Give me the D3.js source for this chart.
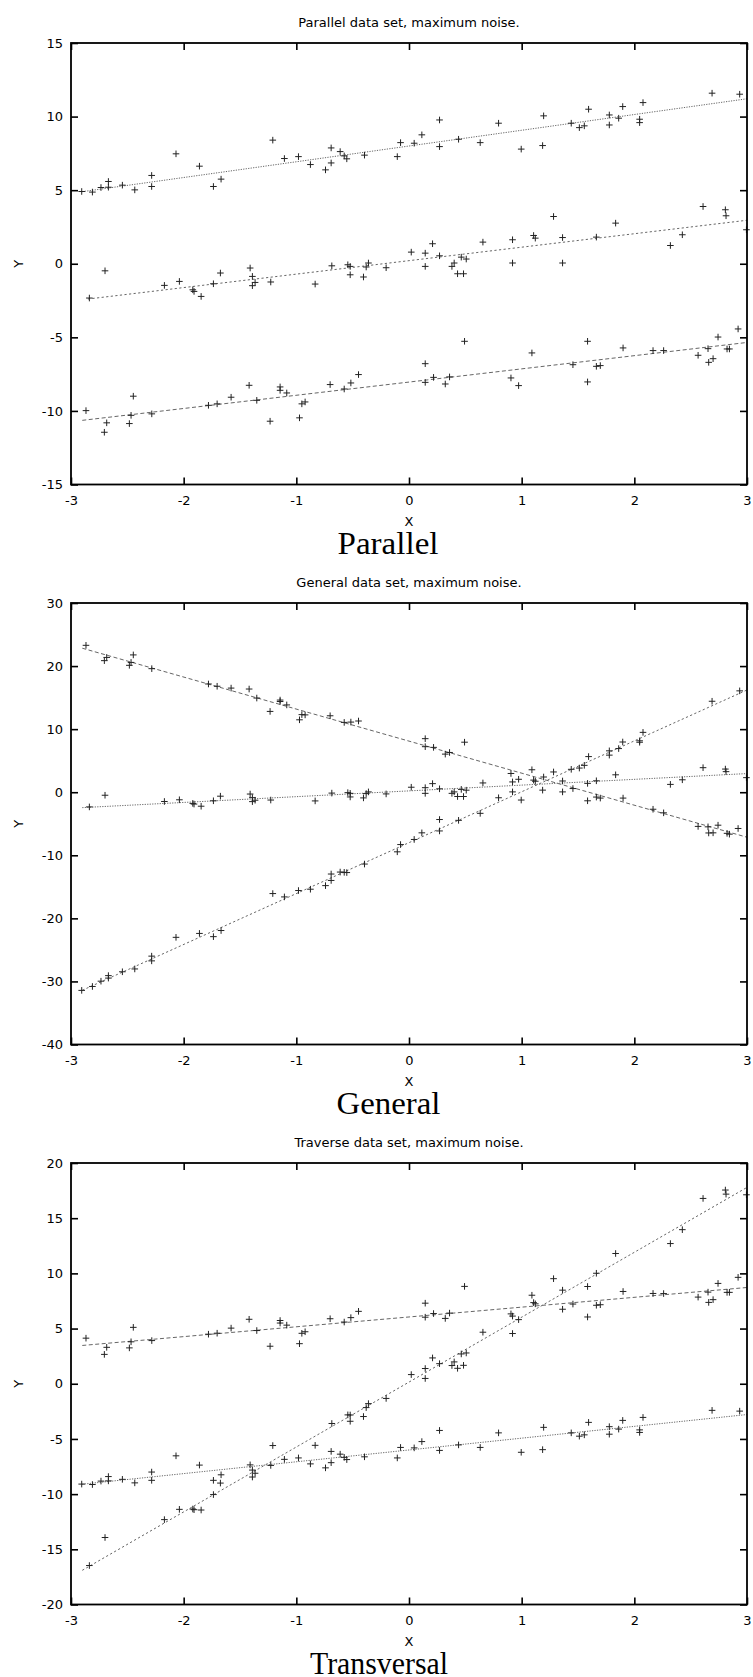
<!DOCTYPE html>
<html>
<head>
<meta charset="utf-8">
<script src="https://cdn.jsdelivr.net/npm/d3@7"></script>
<style>
  body { margin: 0; background: #fff; }
  svg text { font-family: "DejaVu Sans", sans-serif; fill: #000; }
</style>
</head>
<body>
<div id="chart"></div>
<script>
// x positions of the three sampled point sets (shared between the panels)
const xA = [-2.905,-2.81,-2.734,-2.668,-2.668,-2.544,-2.434,-2.284,-2.284,-2.068,-1.86,-1.736,-1.668,-1.209,-1.106,-0.981,-0.875,-0.741,-0.691,-0.691,-0.611,-0.575,-0.552,-0.395,-0.104,-0.075,0.046,0.114,0.271,0.271,0.44,0.632,0.795,0.996,1.186,1.195,1.44,1.512,1.556,1.594,1.778,1.778,1.861,1.897,2.047,2.047,2.077,2.69,2.935];
const xB = [-2.837,-2.698,-2.171,-2.038,-1.919,-1.908,-1.845,-1.736,-1.674,-1.41,-1.39,-1.39,-1.366,-1.227,-0.833,-0.685,-0.543,-0.522,-0.522,-0.404,-0.38,-0.36,-0.203,0.02,0.144,0.144,0.209,0.271,0.381,0.401,0.431,0.464,0.484,0.508,0.656,0.919,0.919,1.106,1.121,1.283,1.363,1.363,1.663,1.834,2.32,2.426,2.61,2.808,2.814,2.995];
const xC = [-2.867,-2.704,-2.683,-2.482,-2.467,-2.447,-2.283,-1.78,-1.703,-1.579,-1.419,-1.351,-1.233,-1.144,-1.144,-1.085,-0.972,-0.951,-0.922,-0.70,-0.575,-0.516,-0.448,0.144,0.144,0.218,0.322,0.36,0.493,0.905,0.973,1.091,1.455,1.585,1.585,1.663,1.698,1.90,2.166,2.26,2.566,2.654,2.66,2.699,2.743,2.823,2.844,2.921];

// Parallel data set
const yParallelTop = [4.91,4.87,5.18,5.59,5.20,5.34,5.02,6.00,5.25,7.47,6.63,5.25,5.75,8.40,7.15,7.28,6.74,6.38,7.87,6.85,7.62,7.33,7.13,7.38,7.28,8.23,8.19,8.76,9.77,7.96,8.46,8.23,9.55,7.79,8.03,10.05,9.55,9.25,9.37,10.50,10.11,9.43,9.89,10.68,9.82,9.59,10.95,11.59,11.52];
const yParallelMid = [-2.33,-0.48,-1.47,-1.20,-1.77,-1.88,-2.22,-1.36,-0.63,-0.29,-0.86,-1.49,-1.27,-1.24,-1.38,-0.14,-0.07,-0.18,-0.75,-0.90,-0.22,0.05,-0.27,0.79,0.72,-0.18,1.36,0.54,-0.18,0.05,-0.68,0.45,-0.68,0.32,1.47,1.63,0.05,1.92,1.74,3.21,1.78,0.05,1.81,2.76,1.24,1.97,3.89,3.67,3.26,2.31];
const yParallelLow = [-9.98,-11.45,-10.81,-10.86,-10.30,-9.00,-10.20,-9.62,-9.52,-9.07,-8.26,-9.28,-10.70,-8.37,-8.60,-8.78,-10.47,-9.52,-9.39,-8.21,-8.51,-8.10,-7.53,-6.79,-8.06,-7.72,-8.17,-7.69,-5.27,-7.76,-8.28,-6.06,-6.86,-5.27,-8.03,-6.97,-6.92,-5.72,-5.90,-5.90,-6.22,-5.77,-6.70,-6.45,-4.98,-5.79,-5.79,-4.43];

// General data set (the flat set is the same as the parallel middle one)
const yGeneralDown = [23.29,20.86,21.37,20.12,20.58,21.77,19.59,17.16,16.80,16.51,16.36,14.93,12.81,14.61,14.38,13.84,11.48,12.30,12.26,12.12,11.07,11.12,11.29,8.49,7.22,7.11,6.04,6.30,7.93,2.97,2.05,3.56,0.58,1.40,-1.36,-0.77,-0.93,-0.93,-2.70,-3.27,-5.42,-5.49,-6.46,-6.44,-5.23,-6.52,-6.65,-5.75];
const yGeneralFlat = yParallelMid;
const yGeneralUp = [-31.42,-30.80,-29.96,-29.08,-29.47,-28.47,-28.02,-25.99,-26.74,-23.01,-22.39,-22.90,-21.93,-16.07,-16.60,-15.59,-15.38,-14.81,-12.97,-13.99,-12.66,-12.70,-12.74,-11.39,-9.45,-8.30,-7.49,-6.44,-4.33,-6.14,-4.46,-3.35,-0.88,-1.24,0.33,2.41,3.63,3.83,4.26,5.65,6.56,5.88,6.92,7.96,8.15,7.92,9.49,14.42,16.07];

// Traverse data set
const yTraverseUp = [4.13,2.66,3.30,3.25,3.80,5.11,3.91,4.49,4.58,5.04,5.84,4.82,3.40,5.73,5.50,5.31,3.63,4.57,4.71,5.89,5.59,5.99,6.56,7.30,6.03,6.36,5.92,6.40,8.82,6.33,5.81,8.02,7.22,8.81,6.05,7.11,7.16,8.36,8.18,8.17,7.85,8.30,7.37,7.62,9.09,8.28,8.28,9.64];
const yTraverseSteep = [-16.47,-13.93,-12.31,-11.38,-11.35,-11.41,-11.44,-10.04,-9.00,-7.35,-7.82,-8.45,-8.11,-7.40,-5.58,-3.60,-2.82,-2.83,-3.40,-2.97,-2.16,-1.80,-1.33,0.83,1.38,0.48,2.34,1.82,1.65,1.98,1.40,2.70,1.67,2.79,4.67,6.13,4.55,7.35,7.24,9.52,8.48,6.75,10.01,11.80,12.70,13.96,16.79,17.55,17.18,17.12];
const yTraverseLow = [-9.09,-9.13,-8.82,-8.41,-8.80,-8.66,-8.98,-8.00,-8.75,-6.53,-7.37,-8.75,-8.25,-5.60,-6.85,-6.72,-7.26,-7.62,-6.13,-7.15,-6.38,-6.67,-6.87,-6.62,-6.72,-5.77,-5.81,-5.24,-4.23,-6.04,-5.54,-5.77,-4.45,-6.21,-5.97,-3.95,-4.45,-4.75,-4.63,-3.50,-3.89,-4.57,-4.11,-3.32,-4.18,-4.41,-3.05,-2.41,-2.48];

// fitted lines: [intercept, slope, first x, last x]
const fitParallelTop = [8.0, 1.07, -2.9, 3];
const fitParallelMid = [0.21, 0.915, -2.85, 3];
const fitParallelLow = [-8.04, 0.897, -2.9, 3];
const fitGeneralDown = [8.1, -5.08, -2.9, 3];
const fitGeneralFlat = [0.21, 0.915, -2.9, 3];
const fitGeneralUp = [-8.0, 8.07, -2.9, 3];
const fitTraverseUp = [6.05, 0.89, -2.9, 3];
const fitTraverseSteep = [0.15, 5.88, -2.9, 3];
const fitTraverseLow = [-6.0, 1.07, -2.9, 3];

// ticks
const xTicks = [-3, -2, -1, 0, 1, 2, 3];
const parallelYTicks = [-15, -10, -5, 0, 5, 10, 15];
const generalYTicks = [-40, -30, -20, -10, 0, 10, 20, 30];
const traverseYTicks = [-20, -15, -10, -5, 0, 5, 10, 15, 20];

const dashes = { fine: "1.2,1.3", short: "2.2,2.4", long: "4,2.5" };

const panels = [
  {
    title: "Parallel data set, maximum noise.", caption: "Parallel",
    yDomain: [-15, 15], yTicks: parallelYTicks,
    series: [
      { x: xA, y: yParallelTop, fit: fitParallelTop, dash: "fine" },
      { x: xB, y: yParallelMid, fit: fitParallelMid, dash: "short" },
      { x: xC, y: yParallelLow, fit: fitParallelLow, dash: "long" },
    ],
  },
  {
    title: "General data set, maximum noise.", caption: "General",
    yDomain: [-40, 30], yTicks: generalYTicks,
    series: [
      { x: xC, y: yGeneralDown, fit: fitGeneralDown, dash: "long" },
      { x: xB, y: yGeneralFlat, fit: fitGeneralFlat, dash: "fine" },
      { x: xA, y: yGeneralUp, fit: fitGeneralUp, dash: "short" },
    ],
  },
  {
    title: "Traverse data set, maximum noise.", caption: "Transversal",
    yDomain: [-20, 20], yTicks: traverseYTicks,
    series: [
      { x: xC, y: yTraverseUp, fit: fitTraverseUp, dash: "long" },
      { x: xB, y: yTraverseSteep, fit: fitTraverseSteep, dash: "short" },
      { x: xA, y: yTraverseLow, fit: fitTraverseLow, dash: "fine" },
    ],
  },
];

const config = {
  width: 753, height: 1677,
  left: 71, top: 43, plotWidth: 676, plotHeight: 441.5, step: 560,
  tick: 7,
};
const captionLayout = [
  { cx: 388, len: 101 },
  { cx: 388.5, len: 104 },
  { cx: 379, len: 138 },
];

const svg = d3.select("#chart")
  .append("svg")
  .attr("width", config.width)
  .attr("height", config.height)
  .style("display", "block");

const plus = "M-3.3,0H3.3M0,-3.3V3.3";

panels.forEach((panel, i) => {
  const top = config.top + i * config.step;
  const w = config.plotWidth, h = config.plotHeight;

  const x = d3.scaleLinear().domain([-3, 3]).range([0, w]);
  const y = d3.scaleLinear().domain(panel.yDomain).range([h, 0]);

  const g = svg.append("g").attr("transform", `translate(${config.left},${top})`);

  // title above the frame
  g.append("text")
    .attr("x", w / 2)
    .attr("y", -16)
    .attr("text-anchor", "middle")
    .style("font-size", "13px")
    .text(panel.title);

  // fitted lines
  const line = d3.line().x((d) => x(d[0])).y((d) => y(d[1]));
  panel.series.forEach((s) => {
    const [a, b, x0, x1] = s.fit;
    g.append("path")
      .datum([[x0, a + b * x0], [x1, a + b * x1]])
      .attr("d", line)
      .attr("fill", "none")
      .attr("stroke", "#666")
      .attr("stroke-width", 1)
      .attr("stroke-dasharray", dashes[s.dash]);
  });

  // "+" markers
  panel.series.forEach((s) => {
    g.append("g")
      .selectAll("path")
      .data(s.x.map((xv, k) => [xv, s.y[k]]))
      .join("path")
      .attr("transform", (d) => `translate(${x(d[0])},${y(d[1])})`)
      .attr("d", plus)
      .attr("stroke", "#222")
      .attr("stroke-width", 1)
      .attr("fill", "none");
  });

  // axes, ticks pointing inwards on all four sides
  const fmt = (d) => String(d);
  const bottom = g.append("g")
    .attr("transform", `translate(0,${h})`)
    .call(d3.axisBottom(x).tickValues(xTicks).tickSize(-config.tick).tickPadding(11).tickFormat(fmt));
  const left = g.append("g")
    .call(d3.axisLeft(y).tickValues(panel.yTicks).tickSize(-config.tick).tickPadding(8).tickFormat(fmt));
  const topAxis = g.append("g")
    .call(d3.axisTop(x).tickValues(xTicks).tickSize(-config.tick).tickFormat(""));
  const right = g.append("g")
    .attr("transform", `translate(${w},0)`)
    .call(d3.axisRight(y).tickValues(panel.yTicks).tickSize(-config.tick).tickFormat(""));

  [bottom, left, topAxis, right].forEach((ax) => {
    ax.select(".domain").remove();
    ax.attr("font-family", null).attr("font-size", null);
    ax.selectAll(".tick line").attr("stroke", "#000").attr("stroke-width", 1.6);
    ax.selectAll(".tick text").style("font-size", "13px").attr("fill", "#000");
  });

  // frame
  g.append("rect")
    .attr("width", w)
    .attr("height", h)
    .attr("fill", "none")
    .attr("stroke", "#000")
    .attr("stroke-width", 1.8);

  // axis labels
  g.append("text")
    .attr("x", w / 2)
    .attr("y", h + 41.5)
    .attr("text-anchor", "middle")
    .style("font-size", "13px")
    .text("X");

  g.append("text")
    .attr("transform", `translate(${23 - config.left},${h / 2}) rotate(-90)`)
    .attr("text-anchor", "middle")
    .style("font-size", "13px")
    .text("Y");

  // caption under the plot
  const cap = captionLayout[i];
  svg.append("text")
    .attr("x", cap.cx)
    .attr("y", top + h + 69)
    .attr("text-anchor", "middle")
    .attr("textLength", cap.len)
    .attr("lengthAdjust", "spacingAndGlyphs")
    .style("font-family", '"Liberation Serif", serif')
    .style("font-size", "32px")
    .text(panel.caption);
});
</script>
</body>
</html>
